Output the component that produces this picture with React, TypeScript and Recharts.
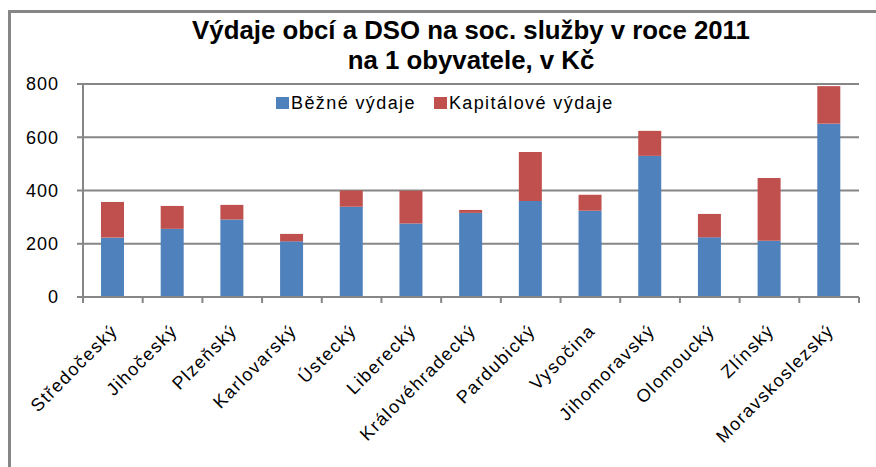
import React from "react";
import { BarChart, Bar, XAxis, YAxis, CartesianGrid } from "recharts";

const regions = [
  "Středočeský",
  "Jihočeský",
  "Plzeňský",
  "Karlovarský",
  "Ústecký",
  "Liberecký",
  "Královéhradecký",
  "Pardubický",
  "Vysočina",
  "Jihomoravský",
  "Olomoucký",
  "Zlínský",
  "Moravskoslezský",
];
const bezne = [223, 256, 291, 209, 339, 276, 316, 361, 324, 530, 224, 211, 651];
const kapitalove = [134, 86, 55, 28, 61, 123, 11, 184, 60, 94, 88, 236, 141];
const yTicks = [0, 200, 400, 600, 800];
const seriesNames = ["Běžné výdaje", "Kapitálové výdaje"];
const titleLines = ["Výdaje obcí a DSO na soc. služby v roce 2011", "na 1 obyvatele, v Kč"];

const data = regions.map((r, i) => ({ name: r, bezne: bezne[i], kap: kapitalove[i] }));

const W = 876;
const H = 467;
const PLOT_LEFT = 83;
const PLOT_RIGHT = 859;
const PLOT_TOP = 84;
const PLOT_BOTTOM = 297;
const BAND = (PLOT_RIGHT - PLOT_LEFT) / regions.length;
const GRAY = "#868686";
const FONT = "'Liberation Sans', Arial, sans-serif";

const XTick = (props: any) => {
  const { x, y, payload, index } = props;
  const left = x - BAND / 2;
  const right = x + BAND / 2;
  return (
    <g>
      <line x1={left} x2={left} y1={y} y2={y + 6} stroke={GRAY} strokeWidth={2} />
      {index === regions.length - 1 && (
        <line x1={right} x2={right} y1={y} y2={y + 6} stroke={GRAY} strokeWidth={2} />
      )}
      <text
        transform={`translate(${x + 6},${y + 35}) rotate(-45)`}
        textAnchor="end"
        fontSize={18}
        letterSpacing={1.4}
        fontFamily={FONT}
        fill="#000"
      >
        {payload.value}
      </text>
    </g>
  );
};

export default function App() {
  return (
    <div style={{ position: "absolute", left: 0, top: 0, width: W, height: H, overflow: "hidden", background: "#fff" }}>
      <div
        style={{
          position: "absolute",
          left: 8,
          top: 10,
          width: 1000,
          height: 1000,
          borderTop: `3px solid ${GRAY}`,
          borderLeft: `3px solid ${GRAY}`,
        }}
      />
      <div
        style={{
          position: "absolute",
          left: 0,
          top: 15,
          width: 942,
          textAlign: "center",
          fontFamily: FONT,
          fontWeight: "bold",
          fontSize: 25.8,
          lineHeight: "30px",
          color: "#000",
        }}
      >
        <div>{titleLines[0]}</div>
        <div>{titleLines[1]}</div>
      </div>
      <div style={{ position: "absolute", left: 0, top: 0 }}>
        <BarChart
          width={W}
          height={H}
          data={data}
          margin={{ top: PLOT_TOP, right: W - PLOT_RIGHT, bottom: 0, left: 0 }}
          barSize={23}
        >
          <CartesianGrid vertical={false} stroke={GRAY} strokeWidth={2} />
          <XAxis
            dataKey="name"
            interval={0}
            tick={<XTick />}
            tickLine={false}
            tickSize={0}
            tickMargin={0}
            axisLine={{ stroke: GRAY, strokeWidth: 2 }}
            height={H - PLOT_BOTTOM}
          />
          <YAxis
            domain={[0, 800]}
            ticks={yTicks}
            width={PLOT_LEFT}
            tickSize={6}
            tickMargin={18}
            tickLine={{ stroke: GRAY, strokeWidth: 2 }}
            axisLine={{ stroke: GRAY, strokeWidth: 2 }}
            tick={{ fontSize: 18, letterSpacing: 1, fill: "#000", fontFamily: FONT }}
          />
          <Bar dataKey="bezne" name={seriesNames[0]} stackId="a" fill="#4F81BD" isAnimationActive={false} />
          <Bar dataKey="kap" name={seriesNames[1]} stackId="a" fill="#C0504D" isAnimationActive={false} />
        </BarChart>
      </div>
      <div
        style={{
          position: "absolute",
          left: 276,
          top: 93,
          display: "flex",
          alignItems: "center",
          fontFamily: FONT,
          fontSize: 18,
          letterSpacing: 1.4,
          color: "#000",
          whiteSpace: "nowrap",
          lineHeight: "20px",
        }}
      >
        <span style={{ width: 13, height: 12, background: "#4F81BD", display: "inline-block", marginRight: 2 }} />
        <span style={{ marginRight: 18 }}>{seriesNames[0]}</span>
        <span style={{ width: 13, height: 12, background: "#C0504D", display: "inline-block", marginRight: 2 }} />
        <span>{seriesNames[1]}</span>
      </div>
    </div>
  );
}
